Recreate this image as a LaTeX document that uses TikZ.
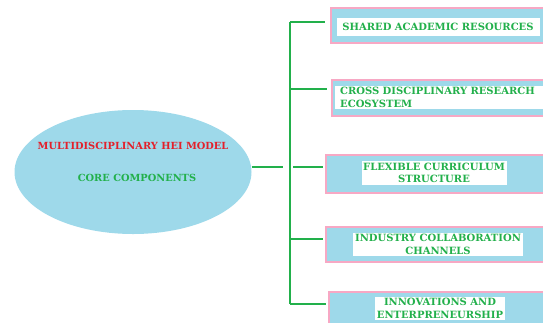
\documentclass[tikz,border=0pt]{standalone}
\usepackage{fontspec}
\setmainfont{DejaVu Serif}
\usetikzlibrary{shapes.geometric}
\definecolor{boxblue}{HTML}{9ED9EA}
\definecolor{boxpink}{HTML}{F7A8C4}
\definecolor{lgreen}{HTML}{22B04B}
\definecolor{tred}{HTML}{E3202B}
\begin{document}
\begin{tikzpicture}[x=1pt,y=-1pt,
    comp/.style={draw=boxpink,fill=boxblue,line width=1.5pt,inner sep=0pt,
      anchor=north west,minimum width=240pt},
    txt/.style={fill=white,text=lgreen,inner sep=1.5pt,align=center,
      font=\bfseries\fontsize{10}{12.5}\selectfont},
    link/.style={draw=lgreen,line width=1.6pt}]
  \useasboundingbox (0,0) rectangle (543,322);
  \begin{scope}
    \clip (0,0) rectangle (543,322);
    % central ellipse
    \node (hei) [ellipse,fill=boxblue,minimum width=237pt,minimum height=124pt,
      inner sep=0pt] at (133,172) {};
    \node (title) [text=tred,font=\bfseries\fontsize{9.8}{12}\selectfont]
      at (133,146) {MULTIDISCIPLINARY HEI MODEL};
    \node (core) [text=lgreen,font=\bfseries\fontsize{9.8}{12}\selectfont]
      at (137,178) {CORE COMPONENTS};
    % component boxes
    \node (b1) [comp,minimum height=35pt] at (330,7) {};
    \node (b2) [comp,minimum height=36pt] at (331,79) {};
    \node (b3) [comp,minimum height=38pt] at (325,154) {};
    \node (b4) [comp,minimum height=35pt] at (325,226) {};
    \node (b5) [comp,minimum height=40pt] at (328,291) {};
    \node (t1) [txt,minimum width=203pt,minimum height=18pt] at (438,27)
      {SHARED ACADEMIC RESOURCES};
    \node (t2) [txt,align=left,anchor=west,inner xsep=5pt,text width=205pt]
      at (335,97.5) {CROSS DISCIPLINARY RESEARCH\\ECOSYSTEM};
    \node (t3) [txt,minimum width=145pt] at (434,173)
      {FLEXIBLE CURRICULUM\\STRUCTURE};
    \node (t4) [txt,minimum width=170pt] at (438,244.5)
      {INDUSTRY COLLABORATION\\CHANNELS};
    \node (t5) [txt,minimum width=125pt] at (440,308.5)
      {INNOVATIONS AND\\ENTERPRENEURSHIP};
    % tree links
    \coordinate (j1) at (290,22);
    \coordinate (j2) at (290,89);
    \coordinate (j3) at (290,167);
    \coordinate (j4) at (290,239);
    \coordinate (j5) at (290,304);
    \coordinate (hub) at (283,167);
    \draw[link] (j1) -- (j5);
    \draw[link] (hub -| hei.east) -- (hub);
    \draw[link,shorten >=5pt] (j1) -- (b1.west |- j1);
    \draw[link,shorten >=4pt] (j2) -- (b2.west |- j2);
    \draw[link,shorten <=3pt,shorten >=2pt] (j3) -- (b3.west |- j3);
    \draw[link,shorten >=2pt] (j4) -- (b4.west |- j4);
    \draw[link,shorten >=2pt] (j5) -- (b5.west |- j5);
  \end{scope}
\end{tikzpicture}
\end{document}
